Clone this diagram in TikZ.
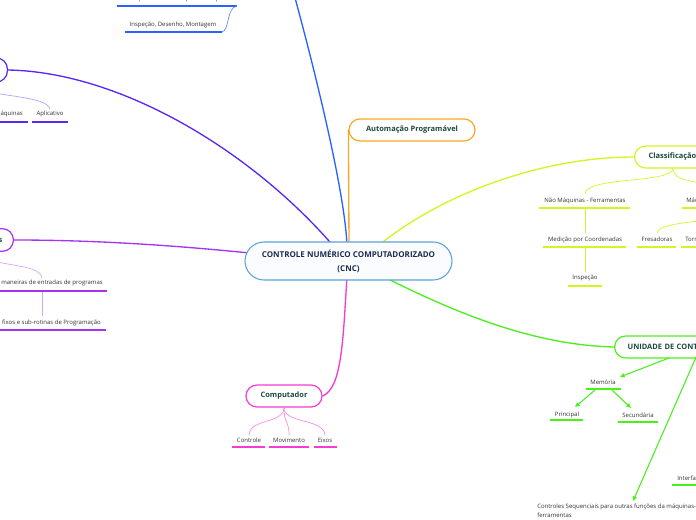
\documentclass[tikz,border=0pt]{standalone}
\usepackage{fontspec}
\setmainfont{Open Sans}
\usetikzlibrary{arrows.meta,backgrounds,calc}
\definecolor{cBlue}{HTML}{2962FF}
\definecolor{cViolet}{HTML}{5A28F5}
\definecolor{cPurple}{HTML}{A633F0}
\definecolor{cMag}{HTML}{F23CD2}
\definecolor{cYel}{HTML}{D4F522}
\definecolor{cGreen}{HTML}{4CEF1E}
\definecolor{cOrange}{HTML}{F9A825}
\definecolor{cBorder}{HTML}{5DA2D8}
\definecolor{cFill}{HTML}{FAFCFF}
\definecolor{cText}{HTML}{1C2B4F}
\definecolor{tText}{HTML}{1B4B3C}
\definecolor{sText}{HTML}{333333}
\begin{document}
\begin{tikzpicture}[x=0.75pt,y=-0.75pt,
 topic/.style={draw, line width=0.9pt, rounded corners=8.25pt, fill=white, minimum height=16.5pt, inner ysep=0pt, font=\fontsize{5.6}{6.5}\selectfont\bfseries, text=tText},
 sub/.style={font=\fontsize{4.5}{6.75}\selectfont, text=sText, inner sep=0pt},
 ul/.style={line width=1.4pt},
 conn/.style={line width=1pt},
 fine/.style={line width=0.5pt},
 garrow/.style={line width=0.8pt, draw=cGreen, -{Triangle[length=3.5pt,width=3pt]}, fill=cGreen},
]
\useasboundingbox (0,0) rectangle (696,520);
\clip (0,0) rectangle (696,520);

% central node
\node[draw=cBorder, fill=cFill, line width=0.8pt, rounded corners=14.25pt, minimum width=155.25pt, minimum height=28.5pt, align=center, inner sep=0pt, font=\fontsize{6}{10.5}\selectfont\bfseries, text=cText] (c) at (348.5,261) {CONTROLE NUMÉRICO COMPUTADORIZADO\\(CNC)};

% topics
\node[topic, draw=cOrange, minimum width=94.5pt] (auto) at (412,130) {Automação Programável};
\node[topic, draw=cMag, minimum width=57pt] (comp) at (284,396) {Computador};
\node[topic, draw=cYel, anchor=west, text width=70pt, align=left, inner xsep=10.5pt] (cls) at (634,157) {Classificação};
\node[topic, draw=cGreen, anchor=west, text width=100pt, align=left, inner xsep=9.75pt] (uni) at (614,347) {UNIDADE DE CONTROLE};
\node[topic, draw=cViolet, anchor=east, minimum width=60pt, minimum height=18pt] (vn) at (8,70) {};
\node[topic, draw=cPurple, anchor=east, text width=40pt, align=right, inner xsep=8.25pt, minimum height=17pt] (pn) at (14,240) {s};
\coordinate (bluetop) at (294,-6);

% blue subtopics
\node[sub, anchor=base] (exec) at (177,1) {Execução em uma ou apenas máquinas};
\draw[ul, cBlue] (117,6) -- (237,6);
\node[sub, anchor=base] (insp) at (173,27) {Inspeção, Desenho, Montagem};
\draw[ul, cBlue] (125,32) -- (222,32);
\coordinate (inspR) at (222,32);
\coordinate (execR) at (237,6);

% violet subtopics
\node[sub, anchor=base east] (maq) at (23,116) {Máquinas};
\draw[ul, cViolet] (-12,122) -- (28,122);
\node[sub, anchor=base] (apl) at (50,116) {Aplicativo};
\draw[ul, cViolet] (32,122) -- (68,122);

% purple subtopics
\node[sub, anchor=base east] (man) at (103,285) {maneiras de entradas de programas};
\draw[ul, cPurple] (-1,291) -- (107,291);
\node[sub, anchor=base east] (cic) at (101,325) {Ciclos fixos e sub-rotinas de Programação};
\draw[ul, cPurple] (-1,330) -- (106,330);
\coordinate (manT) at (42,278);
\coordinate (manB) at (42,292);
\coordinate (cicT) at (42,316);

% magenta subtopics
\node[sub, anchor=base] (ctl) at (249,442) {Controle};
\draw[ul, cMag] (232,447) -- (265,447);
\node[sub, anchor=base] (mov) at (289,442) {Movimento};
\draw[ul, cMag] (269,447) -- (309,447);
\node[sub, anchor=base] (eix) at (325,442) {Eixos};
\draw[ul, cMag] (314,447) -- (337,447);

% yellow subtopics
\node[sub, anchor=base] (nmf) at (585,203) {Não Máquinas - Ferramentas};
\draw[ul, cYel] (539,208) -- (630,208);
\node[sub, anchor=base west] (mf) at (686,203) {Máquinas - Ferramentas};
\draw[ul, cYel] (682,208) -- (720,208);
\node[sub, anchor=base] (med) at (585,242) {Medição por Coordenadas};
\draw[ul, cYel] (543,247) -- (626,247);
\node[sub, anchor=base] (ins2) at (585,280) {Inspeção};
\draw[ul, cYel] (568,286) -- (602,286);
\node[sub, anchor=base] (fre) at (657,242) {Fresadoras};
\draw[ul, cYel] (637,247) -- (676,247);
\node[sub, anchor=base west] (tor) at (685,242) {Tornos};
\draw[ul, cYel] (681,247) -- (720,247);

% green subtopics
\node[sub, anchor=base] (mem) at (603,384) {Memória};
\draw[ul, cGreen] (586,389) -- (621,389);
\node[sub, anchor=base] (pri) at (567,416) {Principal};
\draw[ul, cGreen] (550,420) -- (583,420);
\node[sub, anchor=base] (sec) at (638,417) {Secundária};
\draw[ul, cGreen] (618,422) -- (658,422);
\node[sub, anchor=base west] (itf) at (677,480) {Interface};
\draw[ul, cGreen] (672,485) -- (720,485);
\node[sub, anchor=north west, align=left] (seq) at (537,504) {Controles Sequenciais para outras funções da máquinas-\\ferramentas};

\coordinate (uniB) at (669,358);
\coordinate (memT) at (620,377);
\coordinate (memL) at (595,390);
\coordinate (memR) at (612,390);
\coordinate (priT) at (575,407);
\coordinate (secT) at (631,408);
\coordinate (uniR) at (697,355);
\coordinate (seqT) at (633,501);
\coordinate (clsB) at (673,168);
\coordinate (nmfT) at (585,194);
\coordinate (mfT) at (722,192);
\coordinate (nmfB) at (585,209);
\coordinate (medT) at (585,233);
\coordinate (medB) at (585,248);
\coordinate (insT) at (585,272);
\coordinate (freT) at (657,233);
\coordinate (mfB) at (730,218);

\begin{scope}[on background layer]
\draw[conn, cBlue] ($(c.center)+(-1.5,-15)$) .. controls (345,190) and (312,60) .. (bluetop);
\draw[conn, cOrange] ($(c.center)+(0.5,-15)$) -- (auto.west);
\draw[conn, cViolet] (vn.east) .. controls (120,72) and (250,150) .. ($(c.center)+(-16,-16)$);
\draw[conn, cPurple] (pn.east) .. controls (100,240) and (180,246) .. ($(c.center)+(-99,-8)$);
\draw[conn, cMag] ($(c.center)+(-1.5,15)$) .. controls (343,340) and (342,388) .. (comp.east);
\draw[conn, cYel] ($(c.center)+(29.5,-15)$) .. controls (440,195) and (540,157) .. (cls.west);
\draw[conn, cGreen] ($(c.center)+(33.5,15)$) .. controls (450,310) and (530,345) .. (uni.west);
\end{scope}

% sub connectors
\draw[fine, cBlue!75] (inspR) .. controls (230,30) and (226,8) .. (execR);
\draw[fine, cViolet!45] (vn.south) .. controls (-25,97) and (48,94) .. ($(apl.north)+(0,-2)$);
\draw[fine, cPurple!45] (pn.south) .. controls (-10,268) and (40,262) .. (manT);
\draw[fine, cPurple!45] (manB) -- (cicT);
\draw[fine, cMag!60] (comp.south) .. controls (284,424) and (250,418) .. ($(ctl.north)+(0,-2)$);
\draw[fine, cMag!60] (comp.south) .. controls (284,424) and (289,420) .. ($(mov.north)+(0,-2)$);
\draw[fine, cMag!60] (comp.south) .. controls (284,424) and (324,418) .. ($(eix.north)+(0,-2)$);
\draw[fine, cYel] (clsB) .. controls (673,184) and (586,176) .. (nmfT);
\draw[fine, cYel] (clsB) .. controls (673,184) and (700,178) .. (mfT);
\draw[fine, cYel] (nmfB) -- (medT);
\draw[fine, cYel] (medB) -- (insT);
\draw[fine, cYel] (freT) .. controls (658,224) and (690,222) .. (mfB);
\draw[garrow] (uniB) -- (memT);
\draw[garrow] (memL) -- (priT);
\draw[garrow] (memR) -- (secT);
\draw[garrow] (uniR) -- (seqT);
\end{tikzpicture}
\end{document}
